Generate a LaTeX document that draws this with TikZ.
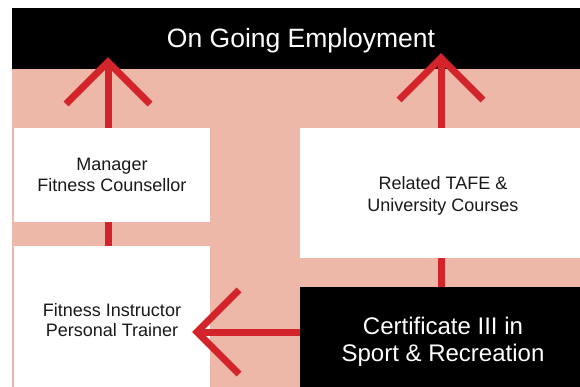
\documentclass[tikz,border=0pt]{standalone}
\usepackage{fontspec}
\setmainfont{Liberation Sans}
\definecolor{pinkbg}{HTML}{EDB8A7}
\definecolor{arrred}{HTML}{D3242C}
\begin{document}
\begin{tikzpicture}[x=1pt,y=-1pt,
  box/.style={fill=white,inner sep=0pt,align=center,font=\fontsize{18}{21}\selectfont,text=black!90},
  blackbox/.style={fill=black,inner sep=0pt,align=center,text=white},
  shaft/.style={draw=arrred,line width=7pt},
  head/.style={draw=arrred,line width=7pt,line join=miter}]
\useasboundingbox (0,0) rectangle (580,387);
\fill[pinkbg] (12,69) rectangle (580,387);
\node[blackbox,minimum width=578pt,minimum height=61pt,font=\fontsize{26.5}{30}\selectfont] (emp) at (301,38.5) {\rule{0pt}{24pt}On Going Employment};
\node[box,minimum width=196pt,minimum height=94pt] (man) at (112,175) {Manager\\Fitness Counsellor};
\node[box,minimum width=196pt,minimum height=148pt,font=\fontsize{18}{20}\selectfont] (fit) at (112,320) {Fitness Instructor\\Personal Trainer};
\node[box,minimum width=286pt,minimum height=130pt,font=\fontsize{18}{22}\selectfont] (tafe) at (443,193) {\rule{0pt}{19pt}Related TAFE \&\\University Courses};
\node[blackbox,minimum width=286pt,minimum height=106pt,font=\fontsize{24}{27}\selectfont] (cert) at (443,340) {\rule{0pt}{21.5pt}Certificate III in\\Sport \& Recreation};
\coordinate (t1) at (108,62);
\coordinate (t2) at (441,58);
\coordinate (t3) at (197,332);
% left vertical arrow: Fitness Instructor -> Manager -> Employment
\draw[shaft] (fit.north -| t1) -- (man.south -| t1);
\draw[shaft] (man.north -| t1) -- (t1);
\draw[head] (t1) ++(-42,42) -- (t1) -- ++(42,42);
% right vertical arrow: Certificate -> TAFE -> Employment
\draw[shaft] (cert.north -| t2) -- (tafe.south -| t2);
\draw[shaft] (tafe.north -| t2) -- (t2);
\draw[head] (t2) ++(-42,42) -- (t2) -- ++(42,42);
% horizontal arrow: Certificate -> Fitness Instructor
\draw[shaft] (cert.west |- t3) -- (t3);
\draw[head] (t3) ++(42,-42) -- (t3) -- ++(42,42);
\end{tikzpicture}
\end{document}
